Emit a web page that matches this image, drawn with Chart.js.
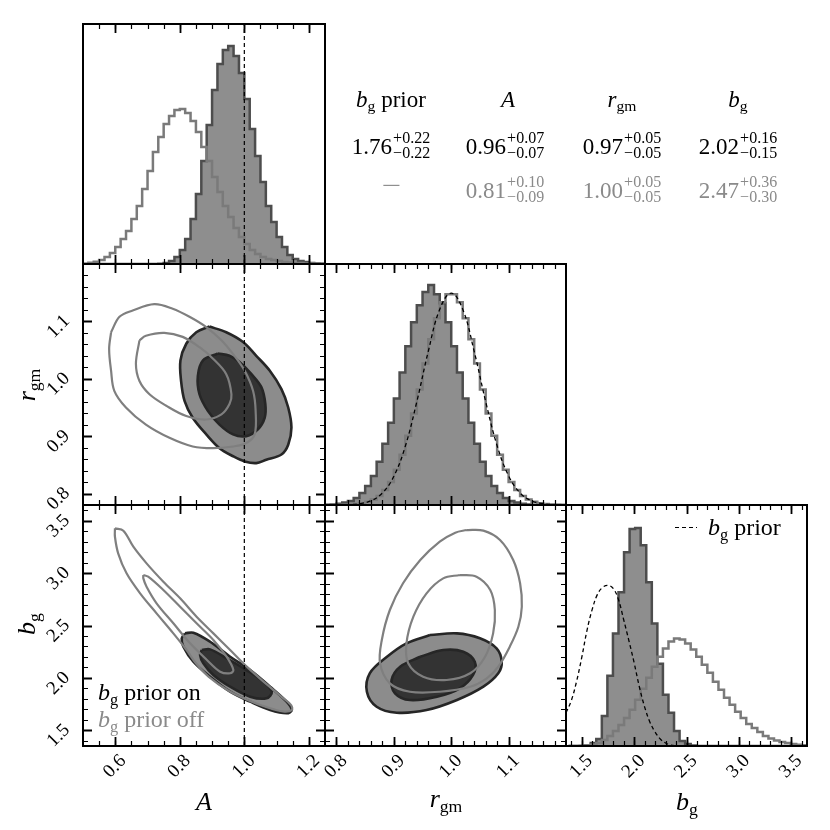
<!DOCTYPE html>
<html>
<head>
<meta charset="utf-8">
<title>corner plot</title>
<script src="https://cdn.jsdelivr.net/npm/chart.js@4.4.1/dist/chart.umd.min.js"></script>
<style>
  html, body { margin: 0; padding: 0; background: #fff; }
  #page { position: relative; width: 830px; height: 830px; overflow: hidden; font-family: "Liberation Serif", "DejaVu Serif", serif; color: #000; }
  #page canvas { position: absolute; left: 0; top: 0; }
  .txt { position: absolute; white-space: nowrap; line-height: 1; }
  .cell { width: 140px; text-align: center; font-size: 23px; }
  .gray { color: #8a8a8a; }
  sub { font-size: 0.68em; vertical-align: -0.28em; line-height: 0; font-style: normal; }
  .pm { display: inline-block; vertical-align: -4px; font-size: 16px; line-height: 15px; text-align: left; margin-left: 1px; }
  .pm span { display: block; }
  .dash { display: inline-block; transform: scaleX(1.5); }
  .xlab { font-size: 26px; transform: translateX(-50%); }
  .ylab { font-size: 26px; transform: translate(-50%, -50%) rotate(-90deg); }
  .leg { font-size: 24px; }
</style>
</head>
<body>
<div id="page">
  <canvas id="cA" width="830" height="830"></canvas>
  <canvas id="cAR" width="830" height="830"></canvas>
  <canvas id="cR" width="830" height="830"></canvas>
  <canvas id="cAB" width="830" height="830"></canvas>
  <canvas id="cRB" width="830" height="830"></canvas>
  <canvas id="cB" width="830" height="830"></canvas>

  <!-- summary table -->
  <div class="txt cell" style="left:321px;top:88px"><i>b</i><sub>g</sub> prior</div>
  <div class="txt cell" style="left:438px;top:88px"><i>A</i></div>
  <div class="txt cell" style="left:552px;top:88px"><i>r</i><sub>gm</sub></div>
  <div class="txt cell" style="left:668px;top:88px"><i>b</i><sub>g</sub></div>

  <div class="txt cell" style="left:321px;top:130px">1.76<span class="pm"><span>+0.22</span><span>&minus;0.22</span></span></div>
  <div class="txt cell" style="left:435px;top:130px">0.96<span class="pm"><span>+0.07</span><span>&minus;0.07</span></span></div>
  <div class="txt cell" style="left:552px;top:130px">0.97<span class="pm"><span>+0.05</span><span>&minus;0.05</span></span></div>
  <div class="txt cell" style="left:668px;top:130px">2.02<span class="pm"><span>+0.16</span><span>&minus;0.15</span></span></div>

  <div class="txt cell gray" style="left:321px;top:174px"><span class="dash">&minus;</span></div>
  <div class="txt cell gray" style="left:435px;top:174px">0.81<span class="pm"><span>+0.10</span><span>&minus;0.09</span></span></div>
  <div class="txt cell gray" style="left:552px;top:174px">1.00<span class="pm"><span>+0.05</span><span>&minus;0.05</span></span></div>
  <div class="txt cell gray" style="left:668px;top:174px">2.47<span class="pm"><span>+0.36</span><span>&minus;0.30</span></span></div>

  <!-- legends -->
  <div class="txt leg" style="left:98px;top:680px"><i>b</i><sub>g</sub> prior on</div>
  <div class="txt leg gray" style="left:98px;top:707px"><i>b</i><sub>g</sub> prior off</div>
  <div class="txt" style="left:675px;top:527px;width:22px;height:1.3px;background:repeating-linear-gradient(90deg,#000 0 4px,transparent 4px 7px)"></div>
  <div class="txt leg" style="left:708px;top:515px"><i>b</i><sub>g</sub> prior</div>

  <!-- axis titles -->
  <div class="txt xlab" style="left:204px;top:789px"><i>A</i></div>
  <div class="txt xlab" style="left:446px;top:786px"><i>r</i><sub>gm</sub></div>
  <div class="txt xlab" style="left:687px;top:789px"><i>b</i><sub>g</sub></div>
  <div class="txt ylab" style="left:27px;top:385px"><i>r</i><sub>gm</sub></div>
  <div class="txt ylab" style="left:27px;top:624px"><i>b</i><sub>g</sub></div>
</div>

<script>
// axis ranges and tick labels
var aRange = [0.5, 1.25];
var rRange = [0.78, 1.2];
var bRange = [1.35, 3.65];
var aTicks = [0.6, 0.8, 1.0, 1.2];
var rTicks = [0.8, 0.9, 1.0, 1.1];
var bTicks = [1.5, 2.0, 2.5, 3.0, 3.5];
var aTruth = 1.0;

// 1d histograms (prior on = filled, prior off = outline)
var aBinStart = 0.5, aBinWidth = 0.75 / 45;
var aOn = [0, 0, 0, 0, 0, 0, 0, 0, 0, 0, 0, 0, 0, 0, 0.3, 1, 3, 7, 14, 25, 45, 70, 103, 139, 174, 200, 214, 218, 208, 191, 165, 135, 108, 82, 58, 42, 27, 17, 9, 5, 3, 2, 1, 0.5, 0.2];
var aOff = [0.3, 1.3, 2.3, 4, 7, 11, 17, 25, 33, 45, 58, 75, 93, 112, 127, 140, 148, 154, 155, 151, 143, 132, 117, 103, 87, 72, 58, 47, 36, 27, 20, 14, 10, 7, 5, 4, 3, 2, 1.5, 1, 1, 0.5, 0.5, 0.3, 0.2];

var rBinStart = 0.78, rBinWidth = 0.01;
var rOn = [0.3, 0.6, 1.2, 2.4, 4, 7, 12, 19, 29, 43, 61, 82, 106, 132, 158, 182, 199, 212, 219, 210, 201, 182, 158, 132, 106, 82, 61, 43, 29, 19, 12, 7, 4, 2.4, 1.2, 0.6, 0.3, 0.2, 0.1, 0.1, 0, 0];
var rOff = [0.1, 0.1, 0.1, 0.2, 0.4, 0.9, 1.7, 3.2, 5.5, 9, 15, 23, 35, 50, 69, 91, 115, 141, 165, 186, 202, 210, 210, 202, 186, 165, 141, 115, 91, 69, 50, 35, 23, 15, 9, 5.5, 3.2, 1.7, 0.9, 0.4, 0.2, 0.1];
var rCurveX = [0.78, 0.80, 0.82, 0.84, 0.86, 0.88, 0.90, 0.92, 0.94, 0.96, 0.98, 1.00, 1.02, 1.04, 1.06, 1.08, 1.10, 1.12, 1.14, 1.16, 1.18, 1.20];
var rCurveY = [0.01, 0.07, 0.3, 1.3, 4.2, 11.9, 28.6, 58.6, 102.8, 153, 195, 211, 195, 153, 103, 59, 29, 12, 4.2, 1.3, 0.3, 0.07];

var bBinStart = 1.374, bBinWidth = 0.053;
var bOn = [0, 0, 0, 0.5, 3, 7, 30, 70, 112, 153, 193, 216, 217, 200, 163, 122, 82, 51, 33, 15, 5, 2, 0.5, 0, 0, 0, 0, 0, 0, 0, 0, 0, 0, 0, 0, 0, 0, 0, 0, 0, 0, 0, 0];
var bOff = [0, 0, 0.2, 0.6, 1.5, 3, 6, 10, 15, 21, 28, 36, 46, 57, 68, 79, 89, 97, 104, 107, 106, 102, 96, 89, 81, 73, 64, 56, 48, 41, 34, 28, 22, 18, 14, 10, 7.5, 5.5, 4, 3, 2, 1.2, 0.8];
var bPriorX = [1.35, 1.40, 1.45, 1.50, 1.55, 1.60, 1.65, 1.70, 1.75, 1.80, 1.85, 1.90, 1.95, 2.00, 2.05, 2.10, 2.15, 2.20, 2.25, 2.30, 2.35, 2.40, 2.45];
var bPriorY = [33, 45, 64, 88, 115, 136, 151, 158, 160, 157, 146, 126, 105, 83, 59, 39, 24, 14, 7, 3, 1, 0.3, 0];
var histTop = 240;

// 2d contours, [x, y] around each level (68% and 95%)
var arOn95 = [[0.892, 1.091], [0.944, 1.081], [0.996, 1.064], [1.037, 1.040], [1.079, 1.014], [1.115, 0.982], [1.136, 0.950], [1.146, 0.915], [1.136, 0.885], [1.115, 0.868], [1.068, 0.859], [1.037, 0.853], [1.001, 0.856], [0.965, 0.865], [0.923, 0.879], [0.882, 0.903], [0.840, 0.932], [0.815, 0.961], [0.804, 0.996], [0.802, 1.032], [0.820, 1.061], [0.851, 1.081]];
var arOn68 = [[0.918, 1.044], [0.954, 1.040], [0.985, 1.029], [1.022, 1.008], [1.053, 0.985], [1.065, 0.956], [1.063, 0.932], [1.042, 0.912], [1.006, 0.900], [0.965, 0.903], [0.923, 0.920], [0.887, 0.944], [0.861, 0.973], [0.856, 1.005], [0.872, 1.032]];
var arOff95 = [[0.587, 1.081], [0.613, 1.108], [0.654, 1.119], [0.721, 1.130], [0.778, 1.122], [0.830, 1.108], [0.882, 1.090], [0.929, 1.067], [0.965, 1.043], [1.001, 1.014], [1.027, 0.979], [1.035, 0.944], [1.032, 0.903], [1.006, 0.888], [0.965, 0.882], [0.903, 0.879], [0.840, 0.882], [0.768, 0.897], [0.695, 0.920], [0.633, 0.950], [0.597, 0.979], [0.587, 1.014], [0.581, 1.052]];
var arOff68 = [[0.675, 1.067], [0.695, 1.075], [0.752, 1.080], [0.809, 1.073], [0.861, 1.055], [0.903, 1.035], [0.944, 1.008], [0.960, 0.973], [0.954, 0.956], [0.929, 0.938], [0.882, 0.929], [0.820, 0.935], [0.758, 0.953], [0.706, 0.973], [0.675, 0.996], [0.664, 1.026]];

var abOn95 = [[0.816, 2.425], [0.842, 2.431], [0.894, 2.345], [0.956, 2.202], [1.018, 2.075], [1.080, 1.916], [1.131, 1.773], [1.147, 1.693], [1.131, 1.662], [1.080, 1.693], [1.018, 1.773], [0.956, 1.868], [0.894, 2.011], [0.842, 2.154], [0.811, 2.298], [0.806, 2.378]];
var abOn68 = [[0.868, 2.266], [0.894, 2.272], [0.945, 2.187], [1.007, 2.075], [1.059, 1.964], [1.085, 1.868], [1.069, 1.805], [1.018, 1.821], [0.956, 1.916], [0.904, 2.028], [0.873, 2.139], [0.863, 2.218]];
var abOff95 = [[0.599, 3.427], [0.625, 3.405], [0.656, 3.252], [0.697, 3.093], [0.749, 2.918], [0.801, 2.759], [0.852, 2.584], [0.904, 2.425], [0.956, 2.266], [1.010, 2.100], [1.065, 1.950], [1.115, 1.820], [1.145, 1.740], [1.147, 1.693], [1.120, 1.680], [1.070, 1.720], [1.010, 1.790], [0.950, 1.880], [0.890, 2.010], [0.850, 2.140], [0.821, 2.266], [0.780, 2.425], [0.728, 2.616], [0.677, 2.807], [0.635, 2.998], [0.609, 3.189], [0.599, 3.347]];
var abOff68 = [[0.687, 2.982], [0.702, 2.966], [0.749, 2.839], [0.801, 2.679], [0.852, 2.521], [0.904, 2.362], [0.945, 2.202], [0.966, 2.075], [0.956, 2.044], [0.925, 2.059], [0.884, 2.171], [0.832, 2.330], [0.780, 2.521], [0.728, 2.712], [0.697, 2.870], [0.687, 2.950]];

var rbOn95 = [[0.963, 2.409], [1.010, 2.425], [1.050, 2.378], [1.079, 2.282], [1.088, 2.154], [1.082, 2.044], [1.056, 1.916], [1.010, 1.789], [0.957, 1.693], [0.905, 1.668], [0.870, 1.725], [0.853, 1.868], [0.858, 2.044], [0.888, 2.202], [0.922, 2.330]];
var rbOn68 = [[0.946, 2.202], [0.986, 2.266], [1.021, 2.250], [1.041, 2.154], [1.038, 2.028], [1.015, 1.901], [0.975, 1.821], [0.928, 1.789], [0.902, 1.853], [0.896, 1.980], [0.911, 2.107]];
var rbOff95 = [[1.027, 3.411], [1.056, 3.405], [1.085, 3.316], [1.108, 3.125], [1.120, 2.903], [1.123, 2.679], [1.117, 2.488], [1.102, 2.298], [1.082, 2.107], [1.062, 1.996], [1.033, 1.916], [0.980, 1.868], [0.928, 1.868], [0.893, 1.948], [0.876, 2.139], [0.879, 2.362], [0.893, 2.648], [0.916, 2.903], [0.946, 3.125], [0.980, 3.300], [1.007, 3.386]];
var rbOff68 = [[1.015, 2.982], [1.044, 2.966], [1.068, 2.839], [1.076, 2.648], [1.073, 2.425], [1.059, 2.202], [1.033, 2.044], [0.992, 1.980], [0.951, 2.011], [0.925, 2.139], [0.922, 2.330], [0.934, 2.584], [0.957, 2.807], [0.986, 2.950]];

// panel grid on the page
var colEdges = [83, 325, 566, 807];
var rowEdges = [24, 264, 505, 746];
var labelBand = 60; // room kept for rotated tick labels
var FONT = '"Liberation Serif", "DejaVu Serif", serif';

var onFill = '#8c8c8c', onCore = '#333333', onLine = '#262626', offLine = '#7f7f7f';
var histFill = '#8e8e8e', histLine = '#4d4d4d', histOff = '#7a7a7a';

// frame plus inward ticks on every side
var frameTicks = {
  id: 'frameTicks',
  afterDraw: function (chart) {
    var o = chart.options.plugins.frameTicks;
    var ctx = chart.ctx, a = chart.chartArea;
    ctx.save();
    ctx.strokeStyle = '#000';
    ctx.lineCap = 'butt';
    function xt(vals, len) {
      var sx = chart.scales.x;
      vals.forEach(function (v) {
        var p = Math.round(sx.getPixelForValue(v)) + 0.5;
        if (p < a.left + 2 || p > a.right - 2) return;
        ctx.moveTo(p, a.top); ctx.lineTo(p, a.top + len);
        ctx.moveTo(p, a.bottom); ctx.lineTo(p, a.bottom - len);
      });
    }
    function yt(vals, len) {
      var sy = chart.scales.y;
      vals.forEach(function (v) {
        var p = Math.round(sy.getPixelForValue(v)) + 0.5;
        if (p < a.top + 2 || p > a.bottom - 2) return;
        ctx.moveTo(a.left, p); ctx.lineTo(a.left + len, p);
        ctx.moveTo(a.right, p); ctx.lineTo(a.right - len, p);
      });
    }
    function minors(range, step) {
      var out = [];
      var v = Math.ceil(range[0] / step - 1e-6) * step;
      for (; v <= range[1] + 1e-9; v += step) out.push(+v.toFixed(4));
      return out;
    }
    ctx.lineWidth = 1.2;
    ctx.beginPath();
    xt(minors(o.xRange, o.xMinor), 5);
    if (o.yRange) yt(minors(o.yRange, o.yMinor), 5);
    ctx.stroke();
    ctx.lineWidth = 1.8;
    ctx.beginPath();
    xt(o.xTicks, 9);
    if (o.yRange) yt(o.yTicks, 9);
    ctx.stroke();
    ctx.lineWidth = 2;
    ctx.strokeRect(a.left, a.top, a.right - a.left, a.bottom - a.top);
    ctx.restore();
  }
};

function histPoints(start, width, vals) {
  var pts = [{ x: start, y: 0 }];
  for (var i = 0; i < vals.length; i++) {
    pts.push({ x: start + i * width, y: vals[i] });
    pts.push({ x: start + (i + 1) * width, y: vals[i] });
  }
  pts.push({ x: start + vals.length * width, y: 0 });
  return pts;
}

function histSet(start, width, vals, filled, order) {
  return {
    data: histPoints(start, width, vals), showLine: true, pointRadius: 0,
    borderColor: filled ? histLine : histOff, borderWidth: 2.5,
    backgroundColor: filled ? histFill : 'transparent', fill: filled ? 'origin' : false,
    order: order
  };
}

function curveSet(xs, ys, order) {
  return {
    data: xs.map(function (x, i) { return { x: x, y: ys[i] }; }),
    showLine: true, pointRadius: 0, borderColor: '#000', borderWidth: 1.3,
    borderDash: [4, 3], fill: false, tension: 0.4, order: order
  };
}

function contourSet(pts, fillColor, lineColor, lw, order) {
  return {
    data: pts.concat([pts[0]]).map(function (p) { return { x: p[0], y: p[1] }; }),
    showLine: true, pointRadius: 0, borderColor: lineColor, borderWidth: lw,
    backgroundColor: fillColor || 'transparent', fill: fillColor ? 'shape' : false,
    tension: 0.35, order: order
  };
}

function truthSet(yRange) {
  return {
    data: [{ x: aTruth, y: yRange[0] }, { x: aTruth, y: yRange[1] }],
    showLine: true, pointRadius: 0, borderColor: '#000', borderWidth: 1.2,
    borderDash: [4, 3], fill: false, order: 0
  };
}

function makePanel(id, col, row, cfg) {
  var xBand = row === 2 ? labelBand : 0;
  var yBand = (cfg.yRange && col === 0) ? labelBand : 0;
  var xAxis = {
    type: 'linear', min: cfg.xRange[0], max: cfg.xRange[1],
    grid: { display: false, drawTicks: false }, border: { display: false },
    ticks: {
      display: row === 2, autoSkip: false, minRotation: 45, maxRotation: 45,
      padding: 4, labelOffset: 8, color: '#000', font: { family: FONT, size: 19 },
      callback: function (v) { return Number(v).toFixed(1); }
    },
    afterBuildTicks: function (s) { s.ticks = cfg.xTicks.map(function (v) { return { value: v }; }); },
    afterFit: function (s) { s.height = xBand; }
  };
  var yAxis;
  if (cfg.yRange) {
    yAxis = {
      type: 'linear', min: cfg.yRange[0], max: cfg.yRange[1],
      grid: { display: false, drawTicks: false }, border: { display: false },
      ticks: {
        display: col === 0, autoSkip: false, minRotation: 45, maxRotation: 45,
        padding: 16, labelOffset: -3, color: '#000', font: { family: FONT, size: 19 },
        callback: function (v) { return Number(v).toFixed(1); }
      },
      afterBuildTicks: function (s) { s.ticks = cfg.yTicks.map(function (v) { return { value: v }; }); },
      afterFit: function (s) { s.width = yBand; }
    };
  } else {
    yAxis = { type: 'linear', display: false, min: 0, max: histTop };
  }
  return new Chart(document.getElementById(id), {
    type: 'scatter',
    data: { datasets: cfg.datasets },
    options: {
      responsive: false, animation: false, events: [],
      layout: { padding: {
        left: colEdges[col] - yBand, top: rowEdges[row],
        right: 830 - colEdges[col + 1], bottom: 830 - rowEdges[row + 1] - xBand
      } },
      plugins: {
        legend: { display: false }, tooltip: { enabled: false },
        frameTicks: { xRange: cfg.xRange, xTicks: cfg.xTicks, xMinor: cfg.xMinor, yRange: cfg.yRange, yTicks: cfg.yTicks, yMinor: cfg.yMinor }
      },
      scales: { x: xAxis, y: yAxis }
    },
    plugins: [frameTicks]
  });
}

// diagonal: A
makePanel('cA', 0, 0, {
  xRange: aRange, xTicks: aTicks, xMinor: 0.05,
  datasets: [
    truthSet([0, histTop]),
    histSet(aBinStart, aBinWidth, aOff, false, 1),
    histSet(aBinStart, aBinWidth, aOn, true, 2)
  ]
});
// A vs r_gm
makePanel('cAR', 0, 1, {
  xRange: aRange, xTicks: aTicks, xMinor: 0.05, yRange: rRange, yTicks: rTicks, yMinor: 0.02,
  datasets: [
    truthSet(rRange),
    contourSet(arOff68, null, offLine, 2.2, 1),
    contourSet(arOff95, null, offLine, 2.2, 1),
    contourSet(arOn68, onCore, onLine, 2.6, 2),
    contourSet(arOn95, onFill, onLine, 2.6, 3)
  ]
});
// diagonal: r_gm
makePanel('cR', 1, 1, {
  xRange: rRange, xTicks: rTicks, xMinor: 0.02,
  datasets: [
    curveSet(rCurveX, rCurveY, 0),
    histSet(rBinStart, rBinWidth, rOff, false, 1),
    histSet(rBinStart, rBinWidth, rOn, true, 2)
  ]
});
// A vs b_g
makePanel('cAB', 0, 2, {
  xRange: aRange, xTicks: aTicks, xMinor: 0.05, yRange: bRange, yTicks: bTicks, yMinor: 0.1,
  datasets: [
    truthSet(bRange),
    contourSet(abOff68, null, offLine, 2.2, 1),
    contourSet(abOff95, null, offLine, 2.2, 1),
    contourSet(abOn68, onCore, onLine, 2.6, 2),
    contourSet(abOn95, onFill, onLine, 2.6, 3)
  ]
});
// r_gm vs b_g
makePanel('cRB', 1, 2, {
  xRange: rRange, xTicks: rTicks, xMinor: 0.02, yRange: bRange, yTicks: bTicks, yMinor: 0.1,
  datasets: [
    contourSet(rbOff68, null, offLine, 2.2, 1),
    contourSet(rbOff95, null, offLine, 2.2, 1),
    contourSet(rbOn68, onCore, onLine, 2.6, 2),
    contourSet(rbOn95, onFill, onLine, 2.6, 3)
  ]
});
// diagonal: b_g
makePanel('cB', 2, 2, {
  xRange: bRange, xTicks: bTicks, xMinor: 0.1,
  datasets: [
    curveSet(bPriorX, bPriorY, 0),
    histSet(bBinStart, bBinWidth, bOff, false, 1),
    histSet(bBinStart, bBinWidth, bOn, true, 2)
  ]
});
</script>
</body>
</html>
